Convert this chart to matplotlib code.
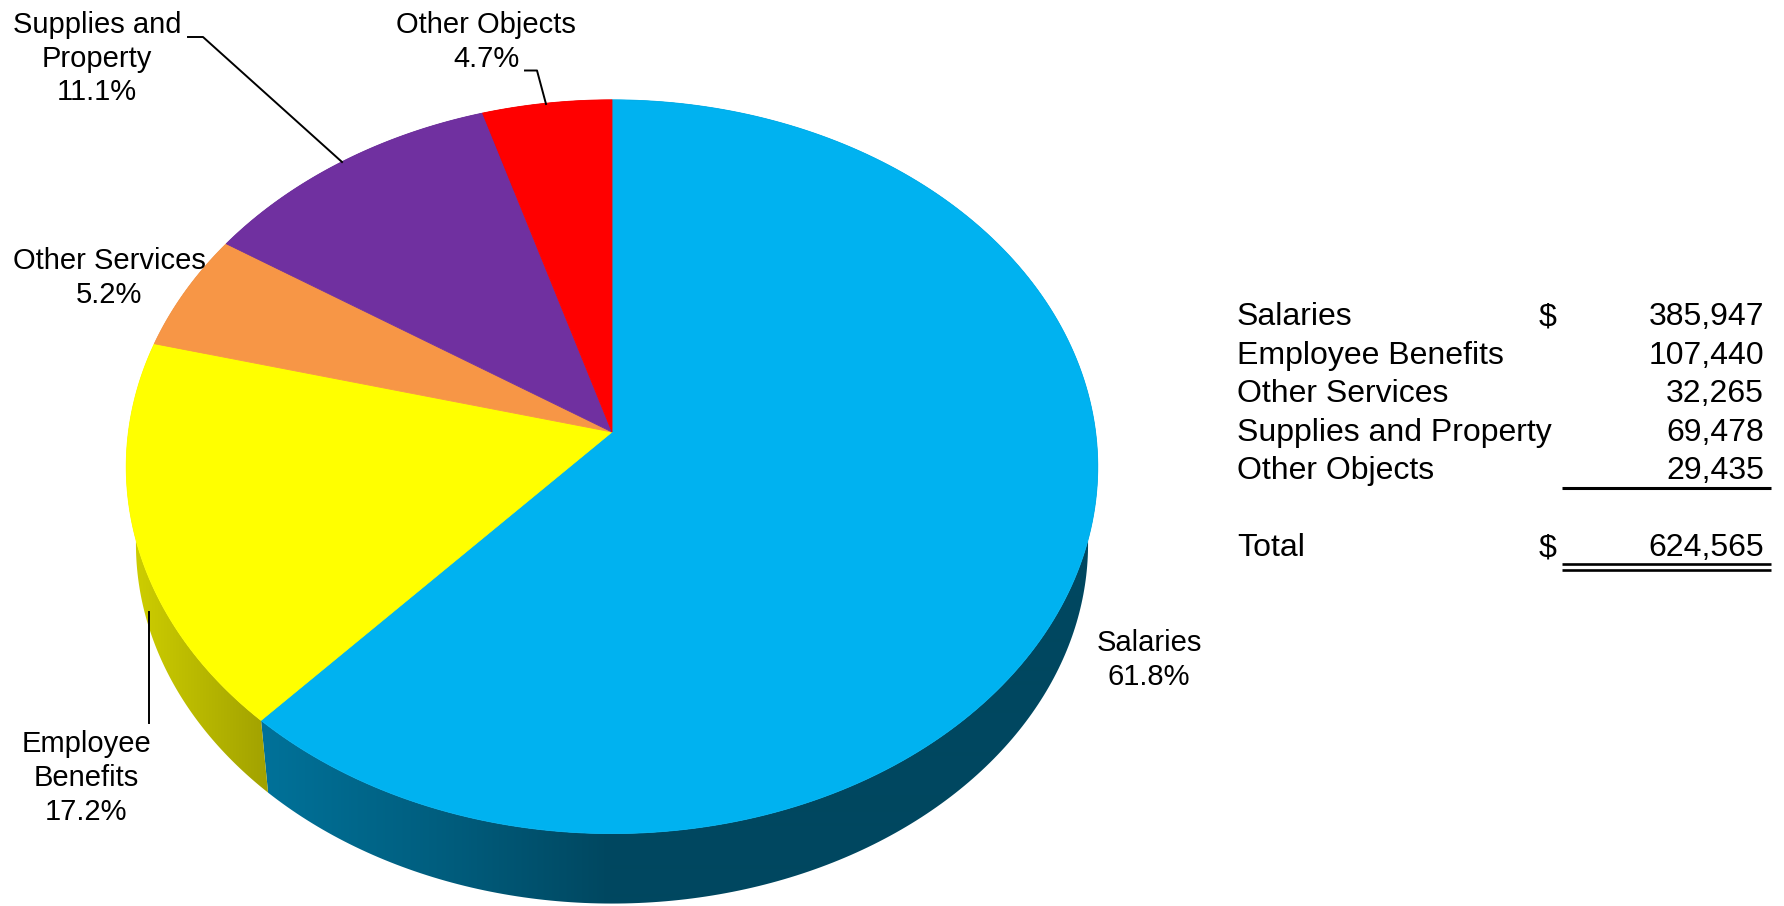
import numpy as np
import matplotlib.pyplot as plt
from matplotlib.patches import Polygon
from matplotlib.colors import to_rgb

plt.rcParams['font.family'] = ['Liberation Sans', 'DejaVu Sans']

# Expenditures by object
categories = ['Salaries', 'Employee Benefits', 'Other Services',
              'Supplies and Property', 'Other Objects']
amounts = [385947, 107440, 32265, 69478, 29435]
pie_names = ['Salaries', 'Employee\nBenefits', 'Other Services',
             'Supplies and\nProperty', 'Other Objects']
colors = ['#00b2f0', '#ffff00', '#f79646', '#7030a0', '#ff0000']

total = sum(amounts)
shares = [a / total for a in amounts]

W, H = 1784, 906
fig = plt.figure(figsize=(W / 100, H / 100), dpi=100)
ax = fig.add_axes([0, 0, 1, 1])
ax.axis('off')

# tilted disc seen with a little perspective (pixel space, y down)
CX, CY = 612, 432
RX, RY = 483.6, 363.6
PERSP = 0.0946
# the bottom face sits lower and slightly smaller (farther from the eye)
SB, DY = 0.98, 78


def project(deg):
    t = np.radians(deg)
    u, v = np.cos(t), np.sin(t)
    w = 1 + PERSP * v
    return CX + RX * u / w, CY - RY * v / w


def project_bottom(deg):
    x, y = project(deg)
    return CX + (x - CX) * SB, CY + (y - CY) * SB + DY


# slice edges, clockwise from 12 o'clock
edges = 90 - 360 * np.concatenate([[0], np.cumsum(shares)])

# side walls: horizontal shading gradient clipped to each slice's band
grad_x = np.arange(W) + 0.5
shade = np.interp(grad_x, [110, 262, 450, 610, W],
                  [0.84, 0.64, 0.52, 0.40, 0.40])
for i, col in enumerate(colors):
    arc = np.linspace(edges[i], edges[i + 1], 300)
    xt, yt = project(arc)
    xb, yb = project_bottom(arc[::-1])
    pts = list(zip(xt, yt)) + list(zip(xb, yb))
    band = Polygon(pts, closed=True, facecolor='none', edgecolor='none')
    ax.add_patch(band)
    img = np.array(to_rgb(col))[None, None, :] * shade[None, :, None]
    im = ax.imshow(img, extent=[0, W, H, 0], aspect='auto',
                   interpolation='bilinear', zorder=1)
    im.set_clip_path(band)

# top faces
for i, col in enumerate(colors):
    arc = np.linspace(edges[i], edges[i + 1], 200)
    xs, ys = project(arc)
    pts = [(CX, CY)] + list(zip(xs, ys))
    ax.add_patch(Polygon(pts, closed=True, facecolor=col, edgecolor=col,
                         linewidth=0.6, zorder=2))

# slice labels
PIE_FS = 21
TAB_FS = 23


def cap_half(fs):
    return 0.716 * fs * 100 / 72 / 2


def put_lines(x, y_first, text, fs, pitch, ha='center'):
    for k, line in enumerate(text.split('\n')):
        ax.text(x, y_first + k * pitch + cap_half(fs), line, fontsize=fs,
                ha=ha, va='baseline', color='black', zorder=4)


label_pos = [(1149, 641), (86, 742), (109, 259), (97, 22.5), (486, 22.5)]
for name, s, (lx, ly) in zip(pie_names, shares, label_pos):
    put_lines(lx, ly, f"{name}\n{s * 100:.1f}%", PIE_FS, 33.6)

# leader lines
ax.plot([149, 149], [612, 723], color='black', lw=1.4, zorder=3)
ax.plot([188, 203, 342], [37, 37, 162], color='black', lw=1.4, zorder=3)
ax.plot([525, 537, 546], [70.5, 70.5, 104], color='black', lw=1.4, zorder=3)

# amounts table
row_y = [314, 352.5, 391, 429.5, 468]
for k, (name, amt) in enumerate(zip(categories, amounts)):
    put_lines(1237, row_y[k], name, TAB_FS, 0, ha='left')
    put_lines(1764, row_y[k], f"{amt:,}", TAB_FS, 0, ha='right')
put_lines(1548, row_y[0], '$', TAB_FS, 0)

total_y = 545
put_lines(1237, total_y, 'Total', TAB_FS, 0, ha='left')
put_lines(1548, total_y, '$', TAB_FS, 0)
put_lines(1764, total_y, f"{total:,}", TAB_FS, 0, ha='right')

ax.plot([1562, 1771], [487.5, 487.5], color='black', lw=2.2,
        solid_capstyle='butt')
for yy in (563.5, 570):
    ax.plot([1562, 1771], [yy, yy], color='black', lw=1.9,
            solid_capstyle='butt')

ax.set_xlim(0, W)
ax.set_ylim(H, 0)
fig.savefig('out.png', dpi=100, facecolor='white')
